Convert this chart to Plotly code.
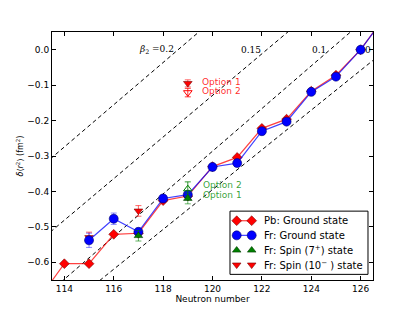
import plotly.graph_objects as go

# ---------------- data ----------------
pb_N = [113, 114, 115, 116, 117, 118, 119, 120, 121, 122, 123, 124, 125, 126, 127]
pb_r2 = [-0.700, -0.604, -0.604, -0.521, -0.518, -0.426, -0.413, -0.330, -0.304,
         -0.222, -0.196, -0.117, -0.072, 0.000, 0.096]

fr_N = [115, 116, 117, 118, 119, 120, 121, 122, 123, 124, 125, 126, 127]
fr_r2 = [-0.538, -0.477, -0.514, -0.420, -0.409, -0.331, -0.320, -0.230, -0.203,
         -0.119, -0.076, 0.000, 0.094]
fr_err = [0.020, 0.016, 0.010, 0.010, 0.008, 0.005, 0.005, 0.005, 0.005, 0.005,
          0.005, 0.004, 0.004]

s7_N = [117, 119]
s7_r2 = [-0.525, -0.420]
s7_err = [0.015, 0.015]
s7_opt2_N = [119]
s7_opt2_r2 = [-0.393]
s7_opt2_err = [0.020]

s10_N = [115, 117, 119]
s10_r2 = [-0.530, -0.455, -0.095]
s10_err = [0.015, 0.015, 0.010]
s10_opt2_N = [119]
s10_opt2_r2 = [-0.121]
s10_opt2_err = [0.012]

# iso-deformation (beta_2) reference lines: two points each
beta_vals = [0.2, 0.15, 0.1, 0.0]
beta_N = [[113, 127], [113, 127], [113, 127], [113, 127]]
beta_r2 = [[-0.334, 0.500], [-0.540, 0.282], [-0.708, 0.135], [-0.788, -0.002]]
beta_label_text = ["<i>β</i><sub>2</sub> =0.2", "0.15", "0.1", "0"]
beta_label_N = [117.75, 121.55, 124.3, 126.3]

x_ticks = [114, 116, 118, 120, 122, 124, 126]
y_ticks = [0.0, -0.1, -0.2, -0.3, -0.4, -0.5, -0.6]

legend_labels = ["Pb: Ground state", "Fr: Ground state",
                 "Fr: Spin (7<sup>+</sup>) state", "Fr: Spin (10<sup>−</sup> ) state"]

RED = "rgb(255,0,0)"
BLUE = "rgb(0,0,255)"
GREEN = "rgb(0,128,0)"

pb_style = dict(line=dict(color="rgba(255,0,0,0.75)", width=1.2),
                marker=dict(symbol="diamond", size=7.5, color=RED,
                            line=dict(color="rgb(120,0,0)", width=0.6)))
fr_style = dict(line=dict(color="rgba(0,0,255,0.75)", width=1.2),
                marker=dict(symbol="circle", size=9, color=BLUE,
                            line=dict(color="rgb(0,0,110)", width=0.6)))
s7_style = dict(marker=dict(symbol="triangle-up", size=7.5, color=GREEN,
                            line=dict(color="rgb(0,60,0)", width=0.6)))
s10_style = dict(marker=dict(symbol="triangle-down", size=7.5, color=RED,
                             line=dict(color="rgb(120,0,0)", width=0.6)))

fig = go.Figure()

for bN, br in zip(beta_N, beta_r2):
    fig.add_trace(go.Scatter(x=bN, y=br, mode="lines", showlegend=False,
                             hoverinfo="skip",
                             line=dict(color="black", width=1, dash="4px,3px")))

fig.add_trace(go.Scatter(x=pb_N, y=pb_r2, mode="lines+markers", showlegend=False,
                         **pb_style))

fig.add_trace(go.Scatter(
    x=s10_N, y=s10_r2, mode="markers", showlegend=False,
    error_y=dict(type="data", array=s10_err, color="rgba(255,0,0,0.6)",
                 thickness=1, width=3), **s10_style))

fig.add_trace(go.Scatter(
    x=s10_opt2_N, y=s10_opt2_r2, mode="markers", showlegend=False,
    error_y=dict(type="data", array=s10_opt2_err, color="rgba(255,0,0,0.8)",
                 thickness=1, width=3),
    marker=dict(symbol="triangle-down-open", size=7.5, color=RED, line=dict(width=1))))

fig.add_trace(go.Scatter(
    x=fr_N, y=fr_r2, mode="lines+markers", showlegend=False,
    error_y=dict(type="data", array=fr_err, color="rgba(0,0,255,0.45)",
                 thickness=1, width=3), **fr_style))

fig.add_trace(go.Scatter(
    x=s7_N, y=s7_r2, mode="markers", showlegend=False,
    error_y=dict(type="data", array=s7_err, color="rgba(0,128,0,0.6)",
                 thickness=1, width=3), **s7_style))

fig.add_trace(go.Scatter(
    x=s7_opt2_N, y=s7_opt2_r2, mode="markers", showlegend=False,
    error_y=dict(type="data", array=s7_opt2_err, color="rgba(0,128,0,0.8)",
                 thickness=1, width=3),
    marker=dict(symbol="triangle-up-open", size=7.5, color=GREEN, line=dict(width=1))))

# ---------------- legend box (matplotlib style: two markers per entry) -------------
leg_x0, leg_x1, leg_y0, leg_y1 = 0.5545, 0.9844, 0.0227, 0.2777
leg_row_y = [0.239, 0.180, 0.120, 0.061]
leg_mark_x = [0.5754, 0.6221]
leg_text_x = 0.655
leg_styles = [("lines+markers", pb_style), ("lines+markers", fr_style),
              ("markers", s7_style), ("markers", s10_style)]

shapes = [dict(type="rect", xref="paper", yref="paper", x0=leg_x0, x1=leg_x1,
               y0=leg_y0, y1=leg_y1, fillcolor="white",
               line=dict(color="black", width=1), layer="below")]

for (mode, sty), ry in zip(leg_styles, leg_row_y):
    fig.add_trace(go.Scatter(x=leg_mark_x, y=[ry, ry], mode=mode, xaxis="x2",
                             yaxis="y2", showlegend=False, hoverinfo="skip", **sty))

annotations = []
for lab, ry in zip(legend_labels, leg_row_y):
    annotations.append(dict(x=leg_text_x, y=ry, xref="paper", yref="paper", text=lab,
                            showarrow=False, xanchor="left", yanchor="middle",
                            font=dict(family="DejaVu Sans", size=10, color="black")))

for txt, xN in zip(beta_label_text, beta_label_N):
    annotations.append(dict(x=xN, y=0.0, xref="x", yref="y", text=txt,
                            showarrow=False, xanchor="center", yanchor="middle",
                            font=dict(family="DejaVu Serif", size=9, color="black")))

opt_text = ["Option 1", "Option 2", "Option 2", "Option 1"]
opt_N = [119.5, 119.5, 119.52, 119.52]
opt_r2 = [-0.091, -0.117, -0.383, -0.411]
opt_color = ["rgba(255,0,0,0.85)", "rgba(255,0,0,0.85)",
             "rgba(0,140,0,0.8)", "rgba(0,140,0,0.8)"]
for t, xN, yv, c in zip(opt_text, opt_N, opt_r2, opt_color):
    annotations.append(dict(x=xN, y=yv, xref="x", yref="y", text=t,
                            showarrow=False, xanchor="left", yanchor="middle",
                            font=dict(family="DejaVu Sans", size=9, color=c)))

axis_common = dict(showline=True, linecolor="black", linewidth=1, mirror="ticks",
                   ticks="inside", ticklen=4, tickcolor="black", showgrid=False,
                   zeroline=False,
                   tickfont=dict(family="DejaVu Sans", size=9, color="black"))

fig.update_layout(
    width=415, height=314,
    margin=dict(l=52, r=42, t=32, b=31),
    paper_bgcolor="white", plot_bgcolor="white",
    font=dict(family="DejaVu Sans", size=9, color="black"),
    xaxis=dict(range=[113.5, 126.5], tickvals=x_ticks,
               title=dict(text="Neutron number", standoff=2,
                          font=dict(family="DejaVu Sans", size=9)),
               **axis_common),
    yaxis=dict(range=[-0.65, 0.05], tickvals=y_ticks, tickformat=".1f",
               title=dict(text="<i>δ</i>⟨<i>r</i><sup>2</sup>⟩ (fm<sup>2</sup>)",
                          standoff=2, font=dict(family="DejaVu Sans", size=8)),
               **axis_common),
    xaxis2=dict(overlaying="x", range=[0, 1], visible=False),
    yaxis2=dict(overlaying="y", range=[0, 1], visible=False),
    shapes=shapes,
    annotations=annotations,
    showlegend=False,
)

fig.write_html("out.html", config={"displayModeBar": False},
               post_script="document.body.style.margin='0';document.body.style.padding='0';")
